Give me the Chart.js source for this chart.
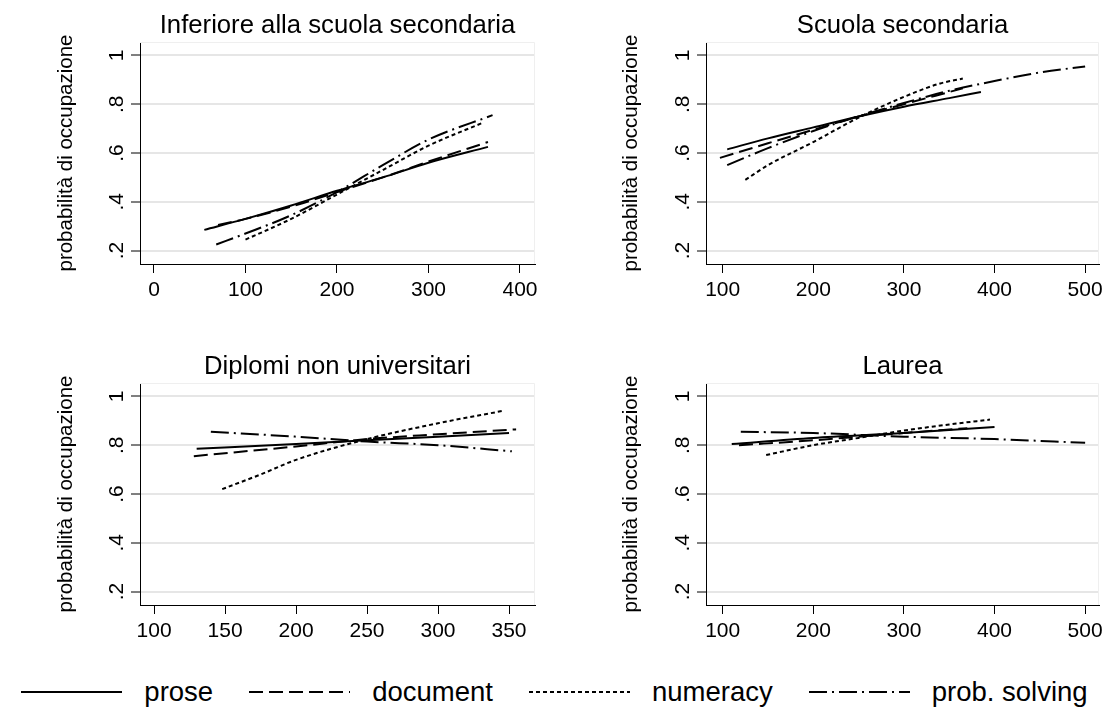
<!DOCTYPE html>
<html>
<head>
<meta charset="utf-8">
<script src="https://cdn.jsdelivr.net/npm/chart.js@4/dist/chart.umd.min.js"></script>
<style>
  body { margin: 0; background: #fff; }
  #fig { position: relative; width: 1109px; height: 723px; overflow: hidden; }
  #fig canvas { position: absolute; }
  #legend {
    position: absolute; left: 0; top: 672px; width: 1109px; height: 40px;
    display: flex; justify-content: center; align-items: center;
    font-family: 'Liberation Sans', Arial, sans-serif; font-size: 27.5px; color: #000;
    white-space: nowrap;
  }
  #legend .item { display: flex; align-items: center; margin: 0 18px; flex-shrink: 0; }
  #legend svg { margin-right: 22px; flex-shrink: 0; }
</style>
</head>
<body>
<div id="fig">
  <canvas id="c1" width="554" height="330" style="left:0;top:0"></canvas>
  <canvas id="c2" width="555" height="330" style="left:554px;top:0"></canvas>
  <canvas id="c3" width="554" height="330" style="left:0;top:341px"></canvas>
  <canvas id="c4" width="555" height="330" style="left:554px;top:341px"></canvas>
  <div id="legend"></div>
</div>
<script>
// series and axis labels
const seriesNames = ['prose', 'document', 'numeracy', 'prob. solving'];
const seriesDash = [[], [14, 6], [4, 3], [18, 5, 2, 5]];
const yTicks = [0.2, 0.4, 0.6, 0.8, 1];
const yTickLabels = ['.2', '.4', '.6', '.8', '1'];
const yTitle = 'probabilità di occupazione';

// Inferiore alla scuola secondaria
const infXTicks = [0, 100, 200, 300, 400];
const infProse = [[55, .285], [100, .33], [150, .385], [200, .445], [250, .50], [300, .56], [365, .625]];
const infDocument = [[70, .305], [100, .33], [150, .38], [200, .44], [250, .50], [300, .565], [365, .645]];
const infNumeracy = [[100, .245], [150, .33], [200, .43], [250, .53], [300, .63], [360, .725]];
const infProbSolving = [[68, .225], [100, .27], [150, .345], [200, .44], [250, .55], [300, .655], [370, .755]];

// Scuola secondaria
const secXTicks = [100, 200, 300, 400, 500];
const secProse = [[105, .615], [150, .66], [200, .705], [250, .75], [300, .79], [350, .825], [385, .85]];
const secDocument = [[97, .58], [150, .64], [200, .695], [250, .75], [300, .80], [340, .84], [365, .865]];
const secNumeracy = [[125, .49], [150, .55], [200, .645], [250, .745], [300, .83], [340, .885], [365, .905]];
const secProbSolving = [[105, .55], [150, .62], [200, .69], [250, .75], [300, .805], [350, .855], [400, .895], [450, .93], [500, .955]];

// Diplomi non universitari
const dipXTicks = [100, 150, 200, 250, 300, 350];
const dipProse = [[130, .785], [200, .805], [250, .82], [300, .835], [350, .85]];
const dipDocument = [[128, .755], [200, .795], [250, .825], [300, .845], [355, .865]];
const dipNumeracy = [[148, .62], [175, .68], [200, .74], [250, .825], [300, .89], [345, .94]];
const dipProbSolving = [[140, .855], [200, .835], [250, .815], [300, .80], [352, .775]];

// Laurea
const lauXTicks = [100, 200, 300, 400, 500];
const lauProse = [[110, .805], [200, .83], [300, .85], [400, .875]];
const lauDocument = [[118, .80], [200, .82], [300, .85], [370, .87]];
const lauNumeracy = [[148, .76], [200, .80], [250, .83], [300, .86], [350, .885], [395, .905]];
const lauProbSolving = [[120, .855], [200, .85], [300, .835], [400, .825], [500, .81]];

const FONT = "'Liberation Sans', Arial, sans-serif";

// panel title, rotated y tick labels and the faint frame on top/right
const stataPanel = {
  id: 'stataPanel',
  beforeDatasetsDraw(chart) {
    const { ctx, chartArea: a } = chart;
    ctx.save();
    ctx.strokeStyle = '#efefef';
    ctx.lineWidth = 1;
    ctx.beginPath();
    ctx.moveTo(a.left, a.top + 0.5);
    ctx.lineTo(a.right - 0.5, a.top + 0.5);
    ctx.lineTo(a.right - 0.5, a.bottom);
    ctx.stroke();
    ctx.restore();
  },
  afterDraw(chart, args, opts) {
    const { ctx, chartArea: a, scales } = chart;
    ctx.save();
    ctx.fillStyle = '#000';
    ctx.textAlign = 'center';
    ctx.textBaseline = 'alphabetic';
    ctx.font = '25.7px ' + FONT;
    ctx.fillText(opts.title, (a.left + a.right) / 2, a.top - 9);
    ctx.font = '21px ' + FONT;
    yTicks.forEach((v, i) => {
      ctx.save();
      ctx.translate(a.left - 17, scales.y.getPixelForValue(v));
      ctx.rotate(-Math.PI / 2);
      ctx.fillText(yTickLabels[i], 0, 0);
      ctx.restore();
    });
    ctx.restore();
  }
};

function makePanel(id, title, series, xTicks, xMin, xMax, leftW, rightPad, titlePad) {
  return new Chart(document.getElementById(id), {
    type: 'line',
    data: {
      datasets: series.map((pts, i) => ({
        label: seriesNames[i],
        data: pts.map(p => ({ x: p[0], y: p[1] })),
        borderColor: '#000',
        borderWidth: 2,
        borderDash: seriesDash[i],
        pointRadius: 0,
        fill: false,
        cubicInterpolationMode: 'monotone'
      }))
    },
    options: {
      responsive: false,
      animation: false,
      layout: { padding: { top: 42, right: rightPad, bottom: 0, left: 0 } },
      plugins: {
        legend: { display: false },
        tooltip: { enabled: false },
        stataPanel: { title: title }
      },
      scales: {
        x: {
          type: 'linear',
          min: xMin,
          max: xMax,
          afterBuildTicks: s => { s.ticks = xTicks.map(v => ({ value: v })); },
          afterFit: s => { s.height = 66; },
          ticks: {
            color: '#000',
            font: { family: FONT, size: 21 },
            padding: 5,
            maxRotation: 0,
            autoSkip: false,
            callback: v => String(v)
          },
          grid: { drawOnChartArea: false, tickLength: 9, color: '#000', lineWidth: 1 },
          border: { display: true, color: '#000', width: 1 }
        },
        y: {
          type: 'linear',
          min: 0.145,
          max: 1.055,
          afterBuildTicks: s => { s.ticks = yTicks.map(v => ({ value: v })); },
          afterFit: s => { s.width = leftW; },
          ticks: { display: false },
          grid: { color: '#e6e6e6', lineWidth: 2, tickLength: 9, tickColor: '#000', tickWidth: 1 },
          border: { display: true, color: '#000', width: 1 },
          title: {
            display: true,
            text: yTitle,
            color: '#000',
            font: { family: FONT, size: 20.5 },
            padding: { top: titlePad, bottom: 0 }
          }
        }
      }
    },
    plugins: [stataPanel]
  });
}

makePanel('c1', 'Inferiore alla scuola secondaria',
  [infProse, infDocument, infNumeracy, infProbSolving], infXTicks, -15.3, 416.4, 140, 19, 54);
makePanel('c2', 'Scuola secondaria',
  [secProse, secDocument, secNumeracy, secProbSolving], secXTicks, 81.6, 515.3, 152, 10, 65);
makePanel('c3', 'Diplomi non universitari',
  [dipProse, dipDocument, dipNumeracy, dipProbSolving], dipXTicks, 90.1, 368.3, 140, 19, 54);
makePanel('c4', 'Laurea',
  [lauProse, lauDocument, lauNumeracy, lauProbSolving], lauXTicks, 81.6, 515.3, 152, 10, 65);

// shared legend under the four panels
const legend = document.getElementById('legend');
seriesNames.forEach((name, i) => {
  const item = document.createElement('div');
  item.className = 'item';
  item.innerHTML =
    '<svg width="101" height="6"><line x1="0" y1="3" x2="101" y2="3" stroke="#000" stroke-width="2"' +
    (seriesDash[i].length ? ' stroke-dasharray="' + seriesDash[i].join(' ') + '"' : '') +
    '/></svg><span>' + name + '</span>';
  legend.appendChild(item);
});
</script>
</body>
</html>
